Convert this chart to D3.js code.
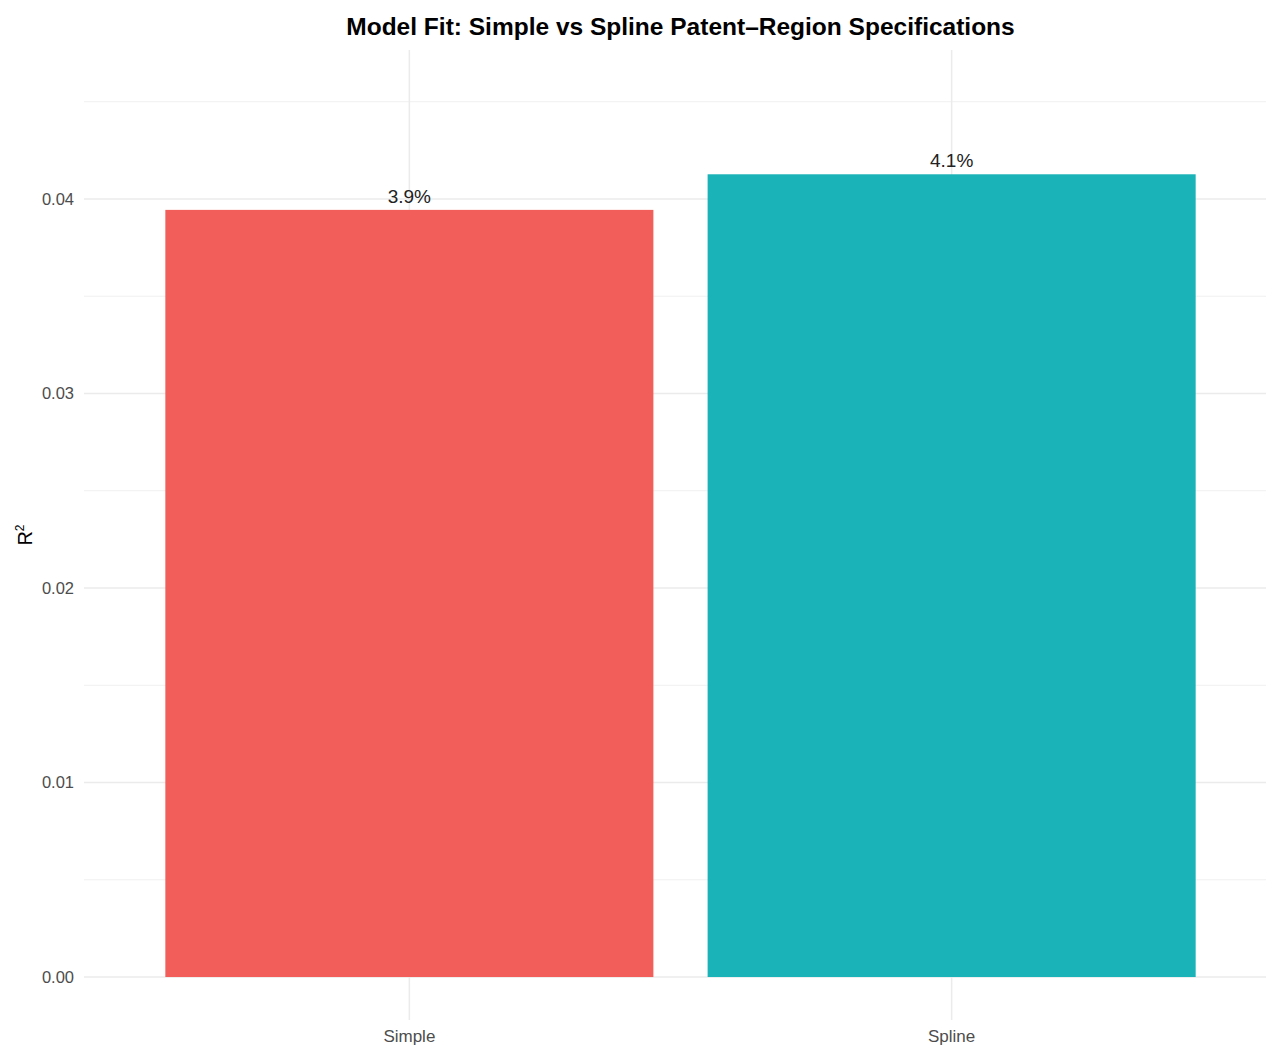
<!DOCTYPE html>
<html>
<head>
<meta charset="utf-8">
<script src="https://cdn.jsdelivr.net/npm/d3@7"></script>
<style>
  body { margin: 0; background: #fff; }
  text { font-family: "Liberation Sans", Arial, sans-serif; }
</style>
</head>
<body>
<svg width="1266" height="1048"></svg>
<script>
// data
const models = ['Simple', 'Spline']
const r2 = [0.03944, 0.04127]
const labels = ['3.9%', '4.1%']
const colors = ['#F25E5A', '#1AB3B8']
const yTicks = [0, 0.01, 0.02, 0.03, 0.04]
const yMinor = [0.005, 0.015, 0.025, 0.035, 0.045]

const svg = d3.select('svg')
const panel = { left: 84, right: 1277, top: 50, bottom: 1020 }

const x = d3.scaleBand()
  .domain(models)
  .range([panel.left, panel.right])
  .paddingInner(0.1)
  .paddingOuter(0.15)

const y = d3.scaleLinear()
  .domain([-0.00221, 0.04766])
  .range([panel.bottom, panel.top])

// grid
svg.append('g')
  .selectAll('line')
  .data(yMinor)
  .enter().append('line')
    .attr('x1', panel.left).attr('x2', panel.right)
    .attr('y1', d => y(d)).attr('y2', d => y(d))
    .attr('stroke', '#f0f0f0')
    .attr('stroke-width', 1)

svg.append('g')
  .selectAll('line')
  .data(yTicks)
  .enter().append('line')
    .attr('x1', panel.left).attr('x2', panel.right)
    .attr('y1', d => y(d)).attr('y2', d => y(d))
    .attr('stroke', '#ebebeb')
    .attr('stroke-width', 1.5)

svg.append('g')
  .selectAll('line')
  .data(models)
  .enter().append('line')
    .attr('x1', d => x(d) + x.bandwidth() / 2)
    .attr('x2', d => x(d) + x.bandwidth() / 2)
    .attr('y1', panel.top).attr('y2', panel.bottom)
    .attr('stroke', '#ebebeb')
    .attr('stroke-width', 1.5)

// bars
svg.append('g')
  .selectAll('rect')
  .data(models)
  .enter().append('rect')
    .attr('x', d => x(d))
    .attr('width', x.bandwidth())
    .attr('y', (d, i) => y(r2[i]))
    .attr('height', (d, i) => y(0) - y(r2[i]))
    .attr('fill', (d, i) => colors[i])

// value labels
svg.append('g')
  .selectAll('text')
  .data(models)
  .enter().append('text')
    .attr('x', d => x(d) + x.bandwidth() / 2)
    .attr('y', (d, i) => y(r2[i]) - 7)
    .attr('text-anchor', 'middle')
    .attr('font-size', 19)
    .attr('fill', '#222')
    .text((d, i) => labels[i])

// y axis labels
svg.append('g')
  .selectAll('text')
  .data(yTicks)
  .enter().append('text')
    .attr('x', 74)
    .attr('y', d => y(d))
    .attr('dy', '0.35em')
    .attr('text-anchor', 'end')
    .attr('font-size', 16.5)
    .attr('fill', '#4d4d4d')
    .text(d3.format('.2f'))

// x axis labels
svg.append('g')
  .selectAll('text')
  .data(models)
  .enter().append('text')
    .attr('x', d => x(d) + x.bandwidth() / 2)
    .attr('y', 1042)
    .attr('text-anchor', 'middle')
    .attr('font-size', 17)
    .attr('fill', '#4d4d4d')
    .text(d => d)

// y title
const yTitle = svg.append('text')
  .attr('transform', `translate(32, ${(panel.top + panel.bottom) / 2}) rotate(-90)`)
  .attr('text-anchor', 'middle')
  .attr('font-size', 20)
  .attr('fill', '#000')
yTitle.append('tspan').text('R')
yTitle.append('tspan').attr('dy', -8).attr('font-size', 12).text('2')

// title
svg.append('text')
  .attr('x', (panel.left + panel.right) / 2)
  .attr('y', 35)
  .attr('text-anchor', 'middle')
  .attr('font-size', 24.5)
  .attr('font-weight', 'bold')
  .attr('fill', '#000')
  .text('Model Fit: Simple vs Spline Patent–Region Specifications')
</script>
</body>
</html>
